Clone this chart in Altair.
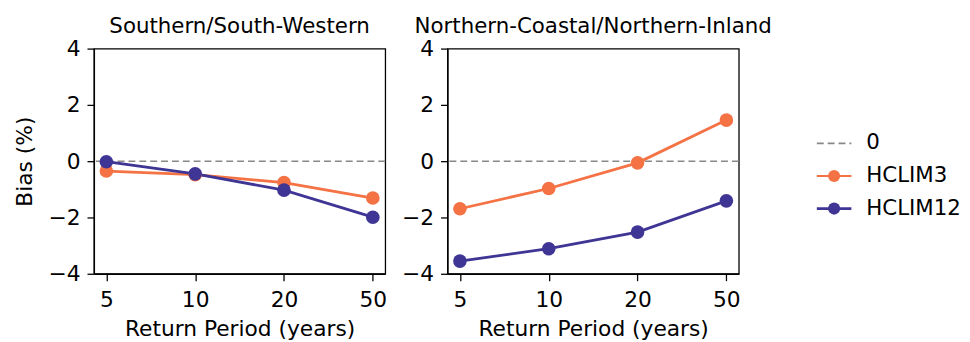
import altair as alt
import pandas as pd

periods = [5, 10, 20, 50]
regions = ["Southern/South-Western", "Northern-Coastal/Northern-Inland"]
series = ["HCLIM3", "HCLIM12"]
colors = ["#F47244", "#3E3594"]

south_hclim3 = [-0.35, -0.48, -0.76, -1.31]
south_hclim12 = [-0.02, -0.45, -1.03, -1.99]
north_hclim3 = [-1.69, -0.97, -0.06, 1.46]
north_hclim12 = [-3.55, -3.11, -2.52, -1.41]

legend_labels = ["0", "HCLIM3", "HCLIM12"]
legend_colors = ["#888888"] + colors

FONT = "DejaVu Sans"
FS = 22
FS_T = 21.6

rows = []
for region, vals in zip(regions, [(south_hclim3, south_hclim12), (north_hclim3, north_hclim12)]):
    for s, v in zip(series, vals):
        for p, b in zip(periods, v):
            rows.append({"region": region, "period": p, "series": s, "bias": b})
df = pd.DataFrame(rows)

zero_df = pd.DataFrame({"zero": [0]})


def panel(region, show_ytitle):
    d = df[df.region == region]
    x = alt.X("period:O", sort=periods,
              scale=alt.Scale(type="point", padding=0.14),
              axis=alt.Axis(title="Return Period (years)", labelAngle=0))
    y = alt.Y("bias:Q", scale=alt.Scale(domain=[-4, 4], nice=False),
              axis=alt.Axis(title="Bias (%)" if show_ytitle else None,
                            values=[-4, -2, 0, 2, 4]))
    color = alt.Color("series:N", scale=alt.Scale(domain=series, range=colors), legend=None)
    base = alt.Chart(d)
    line = base.mark_line(strokeWidth=2.8).encode(x=x, y=y, color=color, detail="series:N")
    pts = base.mark_point(filled=True, size=190, opacity=1).encode(x=x, y=y, color=color)
    rule = alt.Chart(zero_df).mark_rule(color="#888888", strokeDash=[7, 4], strokeWidth=1.6).encode(
        y=alt.Y("zero:Q", scale=alt.Scale(domain=[-4, 4], nice=False)))
    return alt.layer(rule, line, pts).properties(
        width=295, height=228,
        title=alt.TitleParams(region, fontSize=FS_T, font=FONT, fontWeight="normal", offset=0))


left = panel(regions[0], True)
right = panel(regions[1], False)

leg_df = pd.DataFrame({"label": legend_labels})
ly = alt.Y("label:N", sort=legend_labels,
           scale=alt.Scale(type="point", domain=legend_labels, range=[96, 162], padding=0), axis=None)
lcolor = alt.Color("label:N", scale=alt.Scale(domain=legend_labels, range=legend_colors), legend=None)
leg_base = alt.Chart(leg_df)
leg_rule = leg_base.mark_rule().encode(
    x=alt.value(31), x2=alt.value(66), y=ly, color=lcolor,
    strokeDash=alt.StrokeDash("label:N", scale=alt.Scale(domain=legend_labels, range=[[7, 4], [1, 0], [1, 0]]), legend=None),
    strokeWidth=alt.StrokeWidth("label:N", scale=alt.Scale(domain=legend_labels, range=[1.6, 2.8, 2.8]), legend=None))
leg_pts = leg_base.transform_filter(alt.datum.label != "0").mark_point(filled=True, size=150, opacity=1).encode(
    x=alt.value(48.5), y=ly, color=lcolor)
leg_text = leg_base.mark_text(align="left", baseline="middle", fontSize=FS_T, font=FONT, color="black").encode(
    x=alt.value(81), y=ly, text="label:N")
legend = alt.layer(leg_rule, leg_pts, leg_text).properties(
    width=120, height=228, view=alt.ViewConfig(stroke="transparent"))

chart = alt.hconcat(left, right, legend, spacing=12).resolve_scale(color="independent", strokeDash="independent").configure(
    padding={"left": 4, "top": 5, "right": 0, "bottom": 0},
    font=FONT,
).configure_view(stroke="black", strokeWidth=1.3).configure_axis(
    grid=False, domainColor="black", domainWidth=1.3, tickColor="black", tickWidth=1.3, tickSize=7,
    labelFontSize=FS, titleFontSize=FS, labelFont=FONT, titleFont=FONT, labelColor="black", titleColor="black",
    titleFontWeight="normal", labelPadding=9, titlePadding=9,
).configure_axisY(labelPadding=7, titlePadding=12)

chart.save("out.html", embed_options={"renderer": "svg", "actions": False})
